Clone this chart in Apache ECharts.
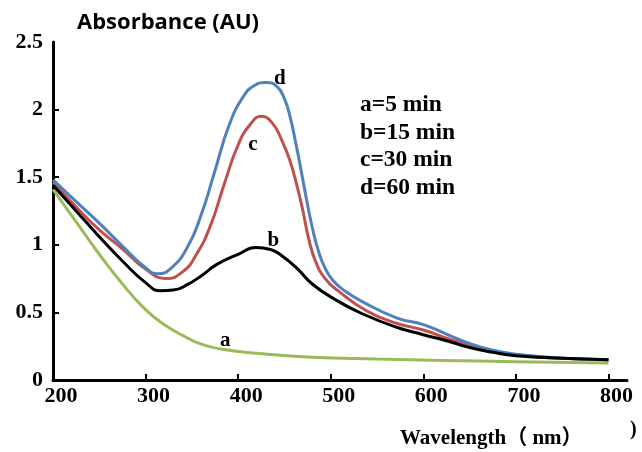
<!DOCTYPE html>
<html><head><meta charset="utf-8">
<script src="https://cdn.jsdelivr.net/npm/echarts@6/dist/echarts.min.js"></script>
<style>html,body{margin:0;padding:0;background:#fff}#c{width:642px;height:452px}</style>
</head><body><div id="c"></div>
<script>
// Wavelength (nm) / absorbance pairs
const curveA = [[200,1.41],[225,1.17],[250,0.93],[275,0.71],[300,0.52],[320,0.41],[340,0.33],[360,0.265],[385,0.225],[420,0.198],[480,0.168],[550,0.155],[620,0.145],[700,0.135],[800,0.125]];
const curveB = [[200,1.44],[225,1.25],[250,1.06],[275,0.88],[300,0.72],[316,0.66],[330,0.665],[345,0.705],[360,0.77],[377,0.855],[400,0.93],[419,0.98],[435,0.965],[445,0.93],[463,0.83],[480,0.71],[506,0.59],[534,0.49],[571,0.39],[600,0.335],[625,0.29],[650,0.24],[675,0.205],[700,0.18],[750,0.16],[800,0.15]];
const curveC = [[200,1.46],[225,1.28],[250,1.11],[275,0.97],[300,0.82],[322,0.75],[340,0.80],[355,0.93],[370,1.14],[385,1.45],[400,1.74],[413,1.89],[425,1.95],[437,1.90],[448,1.76],[456,1.62],[463,1.45],[470,1.25],[476,1.05],[484,0.87],[494,0.75],[506,0.67],[539,0.51],[571,0.42],[600,0.37],[625,0.31],[650,0.255],[675,0.21],[700,0.185],[750,0.16],[800,0.15]];
const curveD = [[200,1.48],[225,1.32],[250,1.16],[275,0.99],[300,0.83],[313,0.785],[328,0.83],[345,0.98],[360,1.22],[375,1.55],[390,1.88],[405,2.09],[418,2.18],[430,2.20],[442,2.17],[450,2.08],[456,1.95],[462,1.76],[468,1.55],[474,1.33],[480,1.13],[486,0.97],[493,0.84],[502,0.74],[515,0.66],[534,0.58],[571,0.46],[600,0.41],[625,0.34],[650,0.27],[675,0.22],[700,0.19],[750,0.16],[800,0.15]];
const seriesNames = ['a','b','c','d'];
const legendLines = ['a=5 min','b=15 min','c=30 min','d=60 min'];
// label anchor points (wavelength, absorbance) for the curve letters
const letterPos = [[386,0.29],[438,1.03],[416,1.74],[445,2.23]];
const xTicks = [200,300,400,500,600,700,800];
const yTicks = [0,0.5,1,1.5,2,2.5];

const colors = ['#9bbb59','#000000','#c0504d','#4f81bd'];
const serif = '"Liberation Serif","Times New Roman",serif';
const datas = [curveA, curveB, curveC, curveD];

const chart = echarts.init(document.getElementById('c'), null, {renderer:'canvas'});
chart.setOption({
  animation:false,
  backgroundColor:'#fff',
  grid:{left:53, right:15, top:42, bottom:72, containLabel:false},
  xAxis:{type:'value', min:200, max:820, interval:100,
    axisLine:{show:true, lineStyle:{color:'#000', width:3}},
    axisTick:{show:true, inside:true, length:6, lineStyle:{color:'#000', width:2}, customValues:xTicks.slice(1)},
    axisLabel:{color:'#000', fontFamily:serif, fontWeight:'bold', fontSize:22, margin:5, padding:[0,0,0,16], customValues:xTicks},
    splitLine:{show:false}},
  yAxis:{type:'value', min:0, max:2.5, interval:0.5,
    axisLine:{show:true, lineStyle:{color:'#000', width:3}},
    axisTick:{show:true, inside:true, length:6, lineStyle:{color:'#000', width:2}, customValues:[0.5,1,1.5,2]},
    axisLabel:{color:'#000', fontFamily:serif, fontWeight:'bold', fontSize:22, margin:10, customValues:yTicks},
    splitLine:{show:false}},
  series: datas.map((d,i)=>({
    type:'line', name:seriesNames[i], data:d, smooth:0.5, showSymbol:false, z:2+(i===1?4:i),
    lineStyle:{color:colors[i], width:3}, itemStyle:{color:colors[i]},
    markPoint:{symbol:'rect', symbolSize:2, silent:true, itemStyle:{color:'rgba(0,0,0,0)'},
      data:[{coord:letterPos[i], value:seriesNames[i]}],
      label:{show:true, formatter:seriesNames[i], color:'#000', fontFamily:serif, fontWeight:'bold', fontSize:21, position:'inside'}}
  })),
  graphic:[
    {type:'text', left:77, top:12, style:{text:'Absorbance (AU)', fill:'#000', font:'bold 22px "Open Sans", sans-serif'}},
    ...legendLines.map((t,i)=>({type:'text', left:360, top:93+i*27.5, style:{text:t, fill:'#000', font:'bold 23.5px '+serif}})),
    {type:'text', left:400, top:428, style:{text:'Wavelength（ nm）', fill:'#000', font:'bold 21px "Liberation Serif","Noto Sans CJK SC",serif'}},
    {type:'text', left:630, top:420, style:{text:')', fill:'#000', font:'bold 20px '+serif}}
  ]
});
</script></body></html>
